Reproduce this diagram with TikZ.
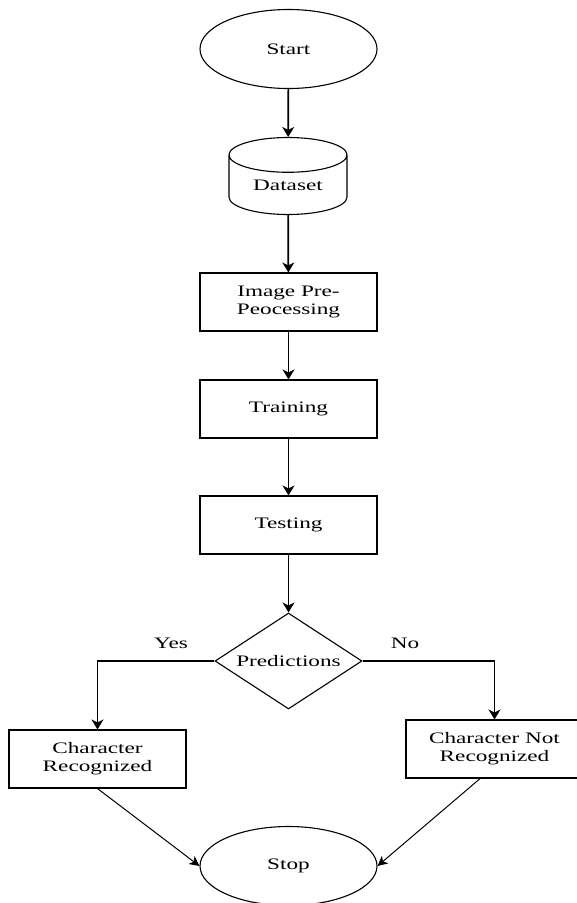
\documentclass[tikz,border=0pt]{standalone}
\usepackage{fontspec}
\newfontfamily\flowfont[FakeStretch=1.45]{Liberation Serif}
\usetikzlibrary{shapes.geometric,arrows.meta}
\tikzset{
  base/.style={draw,line width=1.1pt,font=\flowfont\fontsize{16}{18}\selectfont,align=center,inner sep=0pt},
  term/.style={base,ellipse,minimum width=177pt,minimum height=79pt},
  store/.style={base,cylinder,shape border rotate=90,aspect=.5,minimum width=118pt,minimum height=77pt,anchor=shape center},
  proc/.style={base,rectangle,minimum width=177pt,minimum height=58pt},
  decide/.style={base,diamond,aspect=1.53,minimum width=147pt,minimum height=96pt},
  flow/.style={line width=1.7pt,-{Stealth[length=10pt,width=12pt,inset=3pt]}},
  slant/.style={line width=1pt,-{Stealth[length=10pt,width=10pt,inset=3pt]}},
  tag/.style={font=\flowfont\fontsize{16}{18}\selectfont}
}
\begin{document}
\begin{tikzpicture}[x=1pt,y=-1pt]
\useasboundingbox (0,0) rectangle (577,903);
\clip (0,0) rectangle (577,903);
% main column
\node[term] (start) at (288.5,49) {Start};
\node[store] (data) at (288,176) {Dataset};
\node[proc] (prep) at (288.5,302) {Image Pre-\\Peocessing};
\node[proc] (train) at (288.5,409) {Training};
\node[proc] (test) at (288.5,525) {Testing};
\node[decide] (pred) at (288.5,661) {Predictions};
% outcomes
\node[proc] (found) at (97.5,759) {Character\\Recognized};
\node[proc] (lost) at (494.5,749) {Character Not\\Recognized};
\node[term] (stop) at (288.5,866) {Stop};
\node[tag] (yes) at (171,643) {Yes};
\node[tag] (no) at (405,643) {No};
\draw[flow] (start) -- (data);
\draw[flow] (data) -- (prep);
\draw[flow] (prep) -- (train);
\draw[flow] (train) -- (test);
\draw[flow] (test) -- (pred);
\draw[flow] (pred.west) -| (found.north);
\draw[flow] (pred.east) -| (lost.north);
\draw[slant] (found.south) -- (stop.west);
\draw[slant] (lost.-116) -- (stop.east);
\end{tikzpicture}
\end{document}
